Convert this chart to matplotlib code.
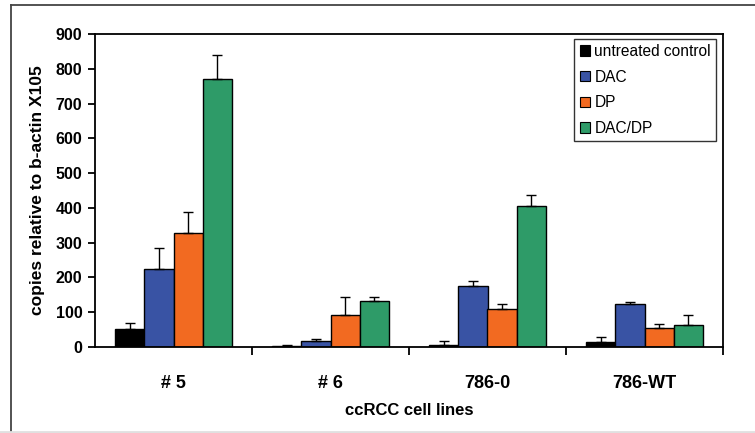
import numpy as np
import matplotlib.pyplot as plt
from matplotlib.lines import Line2D
from matplotlib.patches import Patch

plt.rcParams['font.family'] = ['Liberation Sans', 'DejaVu Sans']

cell_lines = ['# 5', '# 6', '786-0', '786-WT']
treatments = ['untreated control', 'DAC', 'DP', 'DAC/DP']
colors = ['#000000', '#3953A4', '#F26A21', '#2E9B68']

# bar heights
control = [52, 4, 5, 15]
dac = [225, 18, 175, 125]
dp = [328, 91, 110, 55]
dac_dp = [772, 132, 406, 62]

# upper error bars
control_err = [16, 1, 13, 15]
dac_err = [60, 5, 14, 3]
dp_err = [59, 53, 14, 12]
dac_dp_err = [69, 11, 31, 29]

values = [control, dac, dp, dac_dp]
errors = [control_err, dac_err, dp_err, dac_dp_err]

fig = plt.figure(figsize=(7.55, 4.33), dpi=100)
ax = fig.add_axes([95/755, 1-347/433, 628/755, 313/433])

x = np.arange(len(cell_lines))
w = 0.185
for i in range(4):
    pos = x + (i - 1.5) * w
    ax.bar(pos, values[i], w, color=colors[i], edgecolor='black', linewidth=1.0,
           label=treatments[i], zorder=2)
    ax.errorbar(pos, values[i], yerr=[np.zeros(4), errors[i]], fmt='none',
                ecolor='black', elinewidth=1.0, capsize=3.5, capthick=1.0, zorder=3)

ax.set_xlim(-0.5, 3.5)
ax.set_ylim(0, 900)
ax.set_yticks(range(0, 901, 100))
ax.set_xticks(np.arange(0.5, 4, 1))
ax.set_xticklabels([])
ax.set_xticks(x, minor=True)
ax.set_xticklabels(cell_lines, minor=True, fontweight='bold', fontsize=13)
ax.tick_params(axis='x', which='minor', length=0, pad=20)
ax.tick_params(axis='x', which='major', length=6, width=1.3, direction='out')
ax.tick_params(axis='y', length=5, width=1.3, direction='out', labelsize=11.5, pad=4)
for lab in ax.get_yticklabels():
    lab.set_fontweight('bold')
for s in ax.spines.values():
    s.set_linewidth(1.3)

ax.set_ylabel('copies relative to b-actin X105', fontweight='bold', fontsize=12.5, labelpad=8)
ax.set_xlabel('ccRCC cell lines', fontweight='bold', fontsize=12, labelpad=8)

handles = [Patch(facecolor=c, edgecolor='black', linewidth=0.8) for c in colors]
leg = ax.legend(handles, treatments, loc='upper right', bbox_to_anchor=(0.9945, 0.995),
                fontsize=11.2, frameon=True, fancybox=False, edgecolor='black',
                handlelength=0.65, handleheight=0.65, handletextpad=0.3,
                labelspacing=0.68, borderpad=0.35, borderaxespad=0.2)
leg.get_frame().set_linewidth(1.0)

# outer frame of the figure
fig.add_artist(Line2D([11/755, 11/755], [0, 1-5/433], color='#444444', lw=1.3))
fig.add_artist(Line2D([11/755, 1], [1-5/433, 1-5/433], color='#444444', lw=1.3))
fig.add_artist(Line2D([0, 1], [1/433, 1/433], color='#e0e0e0', lw=2))

fig.savefig('out.png', dpi=100)
